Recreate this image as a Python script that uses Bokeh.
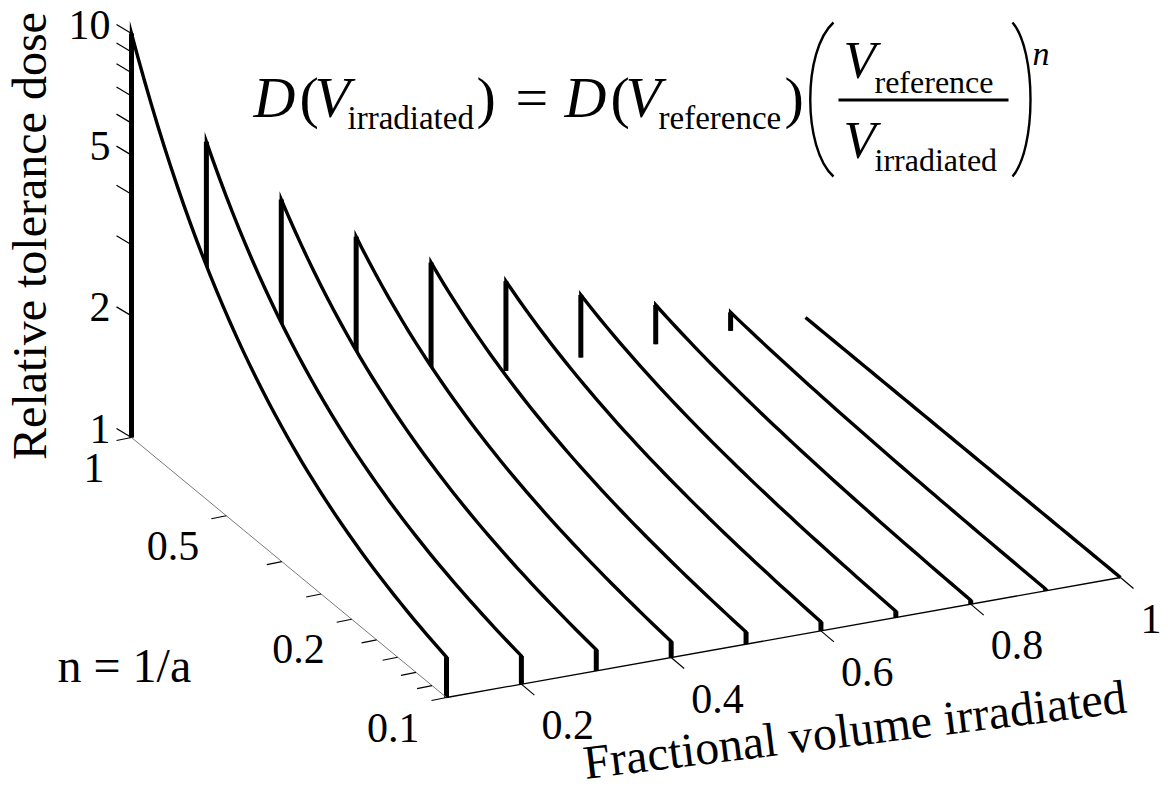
import math
from bokeh.plotting import figure
from bokeh.models import Range1d, ColumnDataSource
from bokeh.core.properties import value
from bokeh.embed import file_html
from bokeh.resources import INLINE

# ---------------- data ----------------
volumes = [0.1, 0.2, 0.3, 0.4, 0.5, 0.6, 0.7, 0.8, 0.9, 1.0]      # fractional volume irradiated
n_grid = [10 ** (-k / 48) for k in range(49)]                        # n = 1/a, from 1 (back) to 0.1 (front)
dose_ticks = [1, 2, 3, 4, 5, 6, 7, 8, 9, 10]
dose_labels = {1: "1", 2: "2", 5: "5", 10: "10"}
a_ticks = [1, 2, 3, 4, 5, 6, 7, 8, 9, 10]
a_labels = {1: "1", 2: "0.5", 5: "0.2", 10: "0.1"}
vol_ticks = [0.2, 0.4, 0.6, 0.8, 1.0]
vol_labels = ["0.2", "0.4", "0.6", "0.8", "1"]


def tolerance(v, n):
    # D(V_irr) = D(V_ref) * (V_ref / V_irr)^n  with D(V_ref)=1, V_ref=1
    return (1.0 / v) ** n


# ---------------- projection (oblique 3-D view) ----------------
X0, Y0 = 131, 437           # screen position of (V=0.1, n=1, D=1)
UX, UY = 674, -120          # V: 0.1 -> 1
TX, TY = 315, 260           # log10(a): 0 -> 1
WY = -404                   # log10(D): 0 -> 1


def proj(v, n, d):
    u = (v - 0.1) / 0.9
    t = -math.log10(n)
    w = math.log10(d)
    sx = X0 + u * UX + t * TX
    sy = Y0 + u * UY + t * TY + w * WY
    return sx, -sy


W, H = 1168, 790
p = figure(width=W, height=H, x_range=Range1d(0, W), y_range=Range1d(-H, 0),
           output_backend="svg", toolbar_location=None, min_border=0,
           outline_line_color=None, background_fill_color="white")
p.axis.visible = False
p.grid.visible = False

SERIF = value("Liberation Serif")

# ---------------- curtains, back to front ----------------
for v in reversed(volumes):
    curve = [proj(v, n, tolerance(v, n)) for n in n_grid]
    floor = [proj(v, n, 1.0) for n in n_grid]
    px = [c[0] for c in curve] + [f[0] for f in reversed(floor)]
    py = [c[1] for c in curve] + [f[1] for f in reversed(floor)]
    p.patch(px, py, fill_color="white", line_color=None)
    lx = [floor[0][0]] + [c[0] for c in curve] + [floor[-1][0]]
    ly = [floor[0][1]] + [c[1] for c in curve] + [floor[-1][1]]
    p.line(lx, ly, line_color="black", line_width=3.4, line_join="miter")
    p.segment(x0=[floor[0][0], curve[-1][0]], y0=[floor[0][1], curve[-1][1]],
              x1=[curve[0][0], floor[-1][0]], y1=[curve[0][1], floor[-1][1]],
              line_color="black", line_width=5)

# ---------------- axes ----------------
b0 = proj(0.1, 1.0, 1.0)
b1 = proj(0.1, 0.1, 1.0)
p.line([b0[0], b1[0]], [b0[1], b1[1]], line_color="#7a7a7a", line_width=1)
e1 = proj(1.0, 0.1, 1.0)
p.line([b1[0], e1[0]], [b1[1], e1[1]], line_color="black", line_width=1.3)

# dose axis ticks + labels
zt = [proj(0.1, 1.0, d) for d in dose_ticks]
p.segment(x0=[q[0] for q in zt], y0=[q[1] for q in zt],
          x1=[q[0] - 15 for q in zt], y1=[q[1] + 9 for q in zt], line_color="black", line_width=1.2)
zl = ColumnDataSource(dict(
    x=[proj(0.1, 1.0, d)[0] - 21 for d in dose_labels],
    y=[proj(0.1, 1.0, d)[1] + 9 for d in dose_labels],
    t=list(dose_labels.values())))
p.text(x="x", y="y", text="t", source=zl, text_font=SERIF, text_font_size="42px",
       text_align="right", text_baseline="middle", text_color="black")

# depth ticks + labels
dt = [proj(0.1, 1.0 / a, 1.0) for a in a_ticks]
p.segment(x0=[q[0] for q in dt], y0=[q[1] for q in dt],
          x1=[q[0] - 15 for q in dt], y1=[q[1] - 3 for q in dt], line_color="black", line_width=1.2)
dl = ColumnDataSource(dict(
    x=[proj(0.1, 1.0 / a, 1.0)[0] - 27 for a in a_labels],
    y=[proj(0.1, 1.0 / a, 1.0)[1] - 30 for a in a_labels],
    t=list(a_labels.values())))
p.text(x="x", y="y", text="t", source=dl, text_font=SERIF, text_font_size="42px",
       text_align="right", text_baseline="middle", text_color="black")

# volume ticks + labels
vt = [proj(v, 0.1, 1.0) for v in vol_ticks]
p.segment(x0=[q[0] for q in vt], y0=[q[1] for q in vt],
          x1=[q[0] + 13 for q in vt], y1=[q[1] - 11 for q in vt], line_color="black", line_width=1.2)
vl = ColumnDataSource(dict(
    x=[proj(v, 0.1, 1.0)[0] + 20 for v in vol_ticks],
    y=[proj(v, 0.1, 1.0)[1] - 41 for v in vol_ticks],
    t=vol_labels))
p.text(x="x", y="y", text="t", source=vl, text_font=SERIF, text_font_size="42px",
       text_align="left", text_baseline="middle", text_color="black")

# axis titles
p.text(x=[29], y=[-235.5], text=["Relative tolerance dose"], angle=math.pi / 2,
       text_font=SERIF, text_font_size="48px", text_align="center",
       text_baseline="middle", text_color="black")
p.text(x=[583], y=[-762], text=["Fractional volume irradiated"], angle=math.radians(7),
       text_font=SERIF, text_font_size="48px", text_align="left",
       text_baseline="middle", text_color="black")
p.text(x=[57], y=[-665], text=["n = 1/a"], text_font=SERIF, text_font_size="48px",
       text_align="left", text_baseline="middle", text_color="black")

# ---------------- formula ----------------
pieces = [
    ("D", 253, 97, "italic", "58px"),
    ("(", 299, 97, "normal", "58px"),
    ("V", 314, 97, "italic", "58px"),
    ("irradiated", 347, 117, "normal", "33px"),
    (")", 476, 97, "normal", "58px"),
    ("=", 515, 97, "normal", "58px"),
    ("D", 564, 97, "italic", "58px"),
    ("(", 610, 97, "normal", "58px"),
    ("V", 625, 97, "italic", "58px"),
    ("reference", 658, 117, "normal", "33px"),
    (")", 784, 97, "normal", "58px"),
    ("V", 843, 59, "italic", "53px"),
    ("reference", 874, 81, "normal", "32px"),
    ("V", 843, 139, "italic", "53px"),
    ("irradiated", 874, 159, "normal", "32px"),
    ("n", 1032, 53, "italic", "34px"),
]
for txt, x, y, style, size in pieces:
    p.text(x=[x], y=[-y], text=[txt], text_font=SERIF, text_font_size=size,
           text_font_style=style, text_align="left", text_baseline="middle",
           text_color="black")

# fraction bar and big parentheses
p.segment(x0=[838], y0=[-99.5], x1=[1008], y1=[-99.5], line_color="black", line_width=3)
p.bezier(x0=[833, 1012], y0=[-22, -22], x1=[833, 1012], y1=[-176, -176],
         cx0=[802, 1036], cy0=[-50, -50], cx1=[802, 1036], cy1=[-148, -148],
         line_color="black", line_width=2.4)

open("out.html", "w").write(file_html(p, INLINE))
